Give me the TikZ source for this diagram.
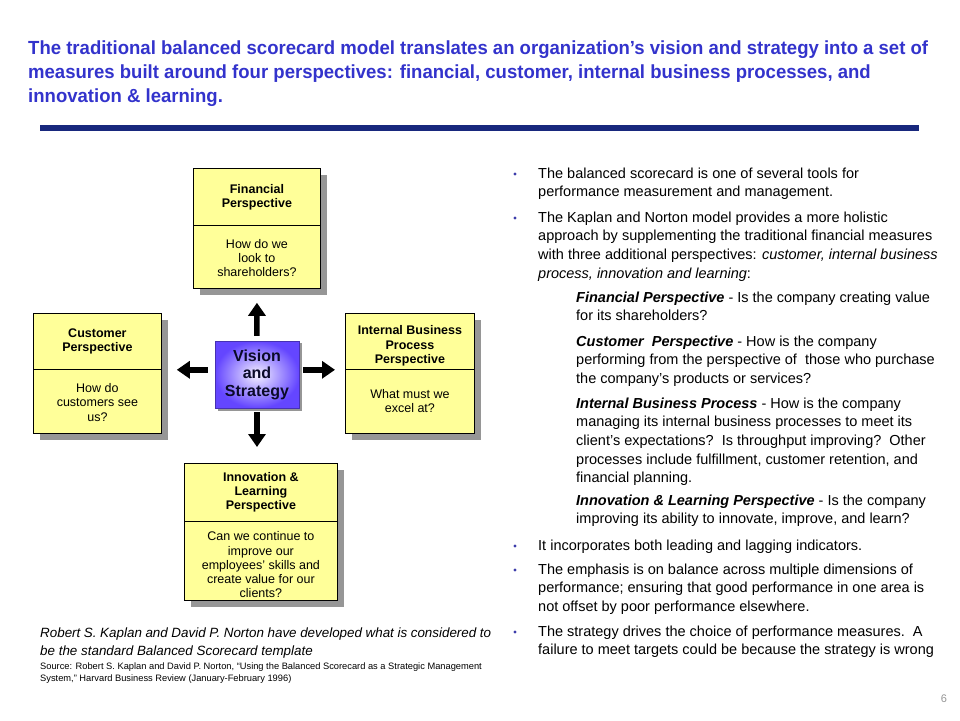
\documentclass[tikz,border=0pt]{standalone}
\usepackage{fontspec}
\setmainfont{Liberation Sans}
\usetikzlibrary{arrows.meta}
\definecolor{titleblue}{RGB}{51,51,204}
\definecolor{barblue}{RGB}{24,40,125}
\definecolor{boxfill}{RGB}{255,255,153}
\definecolor{shadowgray}{RGB}{150,150,150}
\definecolor{bulletblue}{RGB}{60,60,170}
\definecolor{visionouter}{RGB}{100,70,255}
\definecolor{visioninner}{RGB}{245,242,255}
\definecolor{visiontext}{RGB}{10,10,40}
\definecolor{pagegray}{RGB}{150,150,150}
\newcommand{\bodyfont}{\fontsize{14.5}{18.6}\selectfont}
\newcommand{\tallfirst}[1]{\rule{0pt}{#1}}
\begin{document}
\begin{tikzpicture}[x=1pt,y=-1pt,
  pbox/.style={draw=black, line width=0.8pt, fill=boxfill, anchor=north west, inner sep=0pt,
    align=center, font=\fontsize{12.5}{14.2}\selectfont},
  pshadow/.style={fill=shadowgray},
  bigarrow/.style={line width=5.5pt, -{Triangle[width=17pt,length=13pt]}},
  para/.style={anchor=north west, inner sep=0pt, align=left, font=\bodyfont},
  bul/.style={fill=bulletblue}
]
\useasboundingbox[fill=white] (0,0) rectangle (960,720);

% title
\node[anchor=north west, inner sep=0pt, align=left, text=titleblue,
  font=\fontsize{19}{24.3}\selectfont\bfseries\addfontfeature{FakeStretch=0.976}] (title) at (28,37)
  {\strut The traditional balanced scorecard model translates an organization’s vision and strategy into a set of\\
   measures built around four perspectives: financial, customer, internal business processes, and\\
   innovation \& learning.};
\fill[barblue] (40,125) rectangle (919,131);

% shadows
\fill[pshadow] (200,175) rectangle (327,295);
\fill[pshadow] (40,320) rectangle (168,440);
\fill[pshadow] (352,320) rectangle (481,440);
\fill[pshadow] (191,470) rectangle (344,607);
\fill[pshadow] (218,343) rectangle (302,411);

% boxes
\node[pbox, minimum width=127pt, minimum height=57pt] (fint) at (193,168) {\bfseries Financial\\\bfseries Perspective};
\node[pbox, minimum width=127pt, minimum height=63pt] (finb) at (193,225) {\tallfirst{11pt}How do we\\look to\\shareholders?};
\node[pbox, minimum width=128pt, minimum height=56pt] (cust) at (33,313) {\bfseries Customer\\\bfseries Perspective};
\node[pbox, minimum width=128pt, minimum height=64pt] (cusb) at (33,369) {\tallfirst{11pt}How do\\customers see\\us?};
\node[pbox, minimum width=129pt, minimum height=56pt] (intt) at (345,313) {\tallfirst{18pt}\bfseries Internal Business\\\bfseries Process\\\bfseries Perspective};
\node[pbox, minimum width=129pt, minimum height=64pt] (intb) at (345,369) {What must we\\excel at?};
\node[pbox, minimum width=153pt, minimum height=58pt] (innt) at (184,463) {\bfseries Innovation \&\\\bfseries Learning\\\bfseries Perspective};
\node[pbox, minimum width=153pt, minimum height=79pt] (innb) at (184,521) {\tallfirst{17pt}Can we continue to\\improve our\\employees’ skills and\\create value for our\\clients?};

% vision
\shade[inner color=visioninner, outer color=visionouter] (215,341) rectangle (299,408);
\draw[visionouter!70!black, line width=0.4pt] (215,341) rectangle (299,408);
\node[minimum width=84pt, minimum height=67pt, inner sep=0pt, align=center,
  font=\fontsize{16}{17.5}\selectfont\bfseries] (vision) at (257,374.5)
  {\raisebox{0pt}[11.5pt][0pt]{}\textcolor{visiontext}{Vision}\\\textcolor{visiontext}{and}\\\textcolor{visiontext}{Strategy}};

% arrows
\draw[bigarrow, shorten <=5pt, shorten >=14pt] (vision.north) -- (finb.south);
\draw[bigarrow, shorten <=7pt, shorten >=15pt] (vision.west |- cust.south) -- (cusb.east |- cust.south);
\draw[bigarrow, shorten <=4pt, shorten >=10pt] (vision.east |- intt.south) -- (intt.south west);
\draw[bigarrow, shorten <=4pt, shorten >=16pt] (vision.south) -- (vision.south |- innt.north);

% right column
\fill[bul] (515,174) circle (1.6);
\node[para] (p1) at (538,165) {\strut The balanced scorecard is one of several tools for\\performance measurement and management.};
\fill[bul] (515,218) circle (1.6);
\node[para] (p2) at (538,209) {\strut The Kaplan and Norton model provides a more holistic\\approach by supplementing the traditional  financial measures\\with three additional perspectives: \textit{customer, internal business}\\\textit{process, innovation and learning}:};
\node[para] (p3) at (576,289) {\strut\textbf{\textit{Financial Perspective}} - Is the company creating value\\for its shareholders?};
\node[para] (p4) at (576,333) {\strut\textbf{\textit{Customer\ \ Perspective}} - How is the company\\performing from the perspective of\ \ those who purchase\\the company’s products or services?};
\node[para] (p5) at (576,395) {\strut\textbf{\textit{Internal Business Process}} - How is the company\\managing its internal business processes to meet its\\client’s expectations?\ \ Is throughput improving?\ \ Other\\processes include fulfillment, customer retention, and\\financial planning.};
\node[para] (p6) at (576,492) {\strut\textbf{\textit{Innovation \& Learning Perspective}} - Is the company\\improving its ability to innovate, improve, and learn?};
\fill[bul] (515,546) circle (1.6);
\node[para] (p7) at (538,537) {\strut It incorporates both leading and lagging indicators.};
\fill[bul] (515,570) circle (1.6);
\node[para] (p8) at (538,561) {\strut The emphasis is on balance across multiple dimensions of\\performance; ensuring that good performance in one area is\\not offset by poor performance elsewhere.};
\fill[bul] (515,632) circle (1.6);
\node[para] (p9) at (538,623) {\strut The strategy drives the choice of performance measures.\ \ A\\failure to meet targets could be because the strategy is wrong};

% bottom left
\node[anchor=north west, inner sep=0pt, align=left, font=\fontsize{13.4}{18}\selectfont\itshape] (note) at (40,624.4)
  {\strut\hbox to 451pt{Robert S. Kaplan and David P. Norton have developed what is considered to}\\be the standard Balanced Scorecard template};
\node[anchor=north west, inner sep=0pt, align=left, font=\fontsize{9.3}{12}\selectfont] (src) at (40,660.6)
  {\strut Source: Robert S. Kaplan and David P. Norton, “Using the Balanced Scorecard as a Strategic Management\\System,” Harvard Business Review (January-February 1996)};

\node[text=pagegray, font=\fontsize{11}{12}\selectfont, inner sep=0pt] (page) at (944,699) {6};
\end{tikzpicture}
\end{document}
